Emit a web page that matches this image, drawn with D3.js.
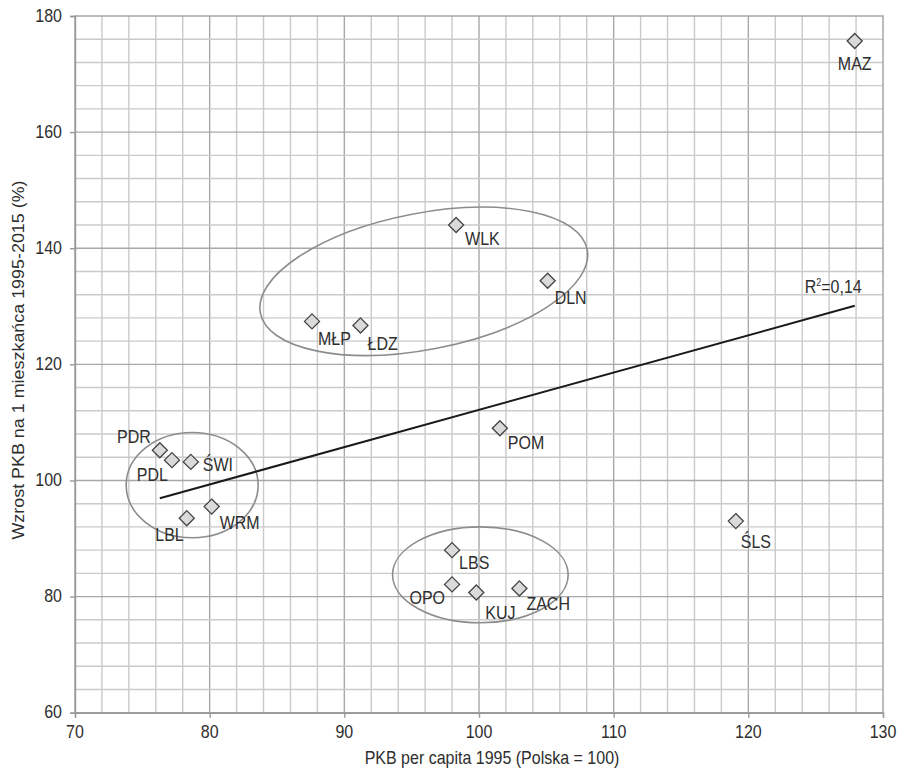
<!DOCTYPE html>
<html>
<head>
<meta charset="utf-8">
<script src="https://cdn.jsdelivr.net/npm/d3@7"></script>
<style>
  body { margin: 0; background: #fff; }
  text { font-family: "Liberation Sans", Arial, sans-serif; fill: #2e2e2e; }
</style>
</head>
<body>
<div id="container"></div>
<script>
// regions (voivodeships)
const regions = ['MAZ', 'WLK', 'DLN', 'MŁP', 'ŁDZ', 'PDR', 'PDL', 'ŚWI', 'WRM', 'LBL', 'LBS', 'OPO', 'KUJ', 'ZACH', 'POM', 'ŚLS'];
// PKB per capita 1995 (Polska = 100)
const gdp1995 = [127.9, 98.3, 105.1, 87.6, 91.2, 76.3, 77.2, 78.6, 80.15, 78.3, 98.0, 98.0, 99.8, 103.0, 101.55, 119.07];
// growth of PKB per inhabitant 1995-2015 (%)
const growth = [175.7, 144.0, 134.4, 127.4, 126.7, 105.2, 103.5, 103.2, 95.5, 93.5, 88.0, 82.1, 80.7, 81.4, 109.0, 93.0];

// axis ticks
const xTicks = [70, 80, 90, 100, 110, 120, 130];
const yTicks = [60, 80, 100, 120, 140, 160, 180];

// group ellipses, in data units: centre, radii, tilt (deg)
const groupCx = [78.7, 95.9, 100.1];
const groupCy = [99.2, 134.3, 83.75];
const groupRx = [4.9, 12.36, 6.52];
const groupRy = [9.07, 11.74, 8.26];
const groupTilt = [0, -11, 0];

const width = 899;
const height = 768;
const margin = { top: 16, right: 16, bottom: 55, left: 75 };

const svg = d3.select('#container')
              .append('svg')
              .attr('width', width)
              .attr('height', height);

const xScale = d3.scaleLinear()
                 .domain([70, 130])
                 .range([margin.left, 883]);

const yScale = d3.scaleLinear()
                 .domain([60, 180])
                 .range([712.7, margin.top]);

const x0 = xScale(70), x1 = xScale(130);
const y0 = yScale(60), y1 = yScale(180);

// stretched text, the source fonts are taller than wide
function label(g, x, y, str, anchor, size) {
    return g.append('text')
            .attr('transform', `translate(${x},${y}) scale(1,1.15)`)
            .attr('text-anchor', anchor)
            .style('font-size', size + 'px')
            .text(str);
}

// minor grid
const grid = svg.append('g');
grid.selectAll('.vminor')
    .data(d3.range(72, 130, 2))
    .enter()
    .append('line')
    .attr('x1', d => xScale(d)).attr('x2', d => xScale(d))
    .attr('y1', y1).attr('y2', y0)
    .attr('stroke', d => d % 10 === 0 ? '#a8a8a8' : '#cacaca')
    .attr('stroke-width', 1.4);

grid.selectAll('.hminor')
    .data(d3.range(64, 180, 4))
    .enter()
    .append('line')
    .attr('y1', d => yScale(d)).attr('y2', d => yScale(d))
    .attr('x1', x0).attr('x2', x1)
    .attr('stroke', d => d % 20 === 0 ? '#a8a8a8' : '#cacaca')
    .attr('stroke-width', 1.4);

// frame
svg.append('rect')
   .attr('x', x0).attr('y', y1)
   .attr('width', x1 - x0).attr('height', y0 - y1)
   .attr('fill', 'none')
   .attr('stroke', '#a0a0a0')
   .attr('stroke-width', 1.4);

// axes
const xAxis = svg.append('g')
                 .attr('transform', `translate(0,${y0})`)
                 .call(d3.axisBottom(xScale).tickValues(xTicks).tickSize(5).tickFormat(''));
const yAxis = svg.append('g')
                 .attr('transform', `translate(${x0},0)`)
                 .call(d3.axisLeft(yScale).tickValues(yTicks).tickSize(5).tickFormat(''));
[xAxis, yAxis].forEach(a => {
    a.selectAll('path, line').attr('stroke', '#999').attr('stroke-width', 1.4);
});

xTicks.forEach(t => label(svg, xScale(t), 738, t, 'middle', 16));
yTicks.forEach(t => label(svg, 62, yScale(t) + 5.5, t, 'end', 16));

// axis titles
label(svg, 492, 764, 'PKB per capita 1995 (Polska = 100)', 'middle', 16);
svg.append('text')
   .attr('transform', `translate(24,360) rotate(-90) scale(1.12,1)`)
   .attr('text-anchor', 'middle')
   .style('font-size', '16px')
   .text('Wzrost PKB na 1 mieszkańca 1995-2015 (%)');

// group ellipses
const sx = xScale(1) - xScale(0);
const sy = yScale(0) - yScale(1);
groupCx.forEach((cx, i) => {
    svg.append('ellipse')
       .attr('transform', `translate(${xScale(cx)},${yScale(groupCy[i])}) rotate(${groupTilt[i]})`)
       .attr('rx', groupRx[i] * sx)
       .attr('ry', groupRy[i] * sy)
       .attr('fill', 'none')
       .attr('stroke', '#8c8c8c')
       .attr('stroke-width', 1.6);
});

// linear trend
const points = regions.map((r, i) => ({ name: r, x: gdp1995[i], y: growth[i] }));
const mx = d3.mean(points, d => d.x);
const my = d3.mean(points, d => d.y);
const sxy = d3.sum(points, d => (d.x - mx) * (d.y - my));
const sxx = d3.sum(points, d => (d.x - mx) ** 2);
const syy = d3.sum(points, d => (d.y - my) ** 2);
const slope = sxy / sxx;
const icept = my - slope * mx;
const r2 = (sxy * sxy) / (sxx * syy);
const xmin = d3.min(gdp1995), xmax = d3.max(gdp1995);

svg.append('line')
   .attr('x1', xScale(xmin)).attr('y1', yScale(icept + slope * xmin))
   .attr('x2', xScale(xmax)).attr('y2', yScale(icept + slope * xmax))
   .attr('stroke', '#1a1a1a')
   .attr('stroke-width', 2);

const r2Text = svg.append('text')
   .attr('transform', `translate(${xScale(xmax) + 7},${yScale(icept + slope * xmax) - 13}) scale(1,1.15)`)
   .attr('text-anchor', 'end')
   .style('font-size', '16px');
r2Text.append('tspan').text('R');
r2Text.append('tspan').attr('dy', -6).style('font-size', '9px').text('2');
r2Text.append('tspan').attr('dy', 6).text('=' + r2.toFixed(2).replace('.', ','));

// diamonds
svg.selectAll('.pt')
   .data(points)
   .enter()
   .append('path')
   .attr('d', d3.symbol().type(d3.symbolDiamond2).size(145))
   .attr('transform', d => `translate(${xScale(d.x)},${yScale(d.y)})`)
   .attr('fill', '#dadada')
   .attr('stroke', '#444')
   .attr('stroke-width', 1.3);

// label offsets [dx, dy, anchor]
const offsets = {
    'MAZ': [0, 29, 'middle'], 'WLK': [9, 20, 'start'], 'DLN': [7, 23, 'start'],
    'MŁP': [6, 24, 'start'], 'ŁDZ': [7, 25, 'start'], 'PDR': [-9, -7, 'end'],
    'PDL': [-4, 21, 'end'], 'ŚWI': [12, 9, 'start'], 'WRM': [8, 22, 'start'],
    'LBL': [-3, 23, 'end'], 'LBS': [7, 19, 'start'], 'OPO': [-7, 20, 'end'],
    'KUJ': [9, 26, 'start'], 'ZACH': [7, 22, 'start'], 'POM': [8, 21, 'start'],
    'ŚLS': [5, 27, 'start']
};
points.forEach(d => {
    const o = offsets[d.name];
    label(svg, xScale(d.x) + o[0], yScale(d.y) + o[1], d.name, o[2], 16);
});
</script>
</body>
</html>
